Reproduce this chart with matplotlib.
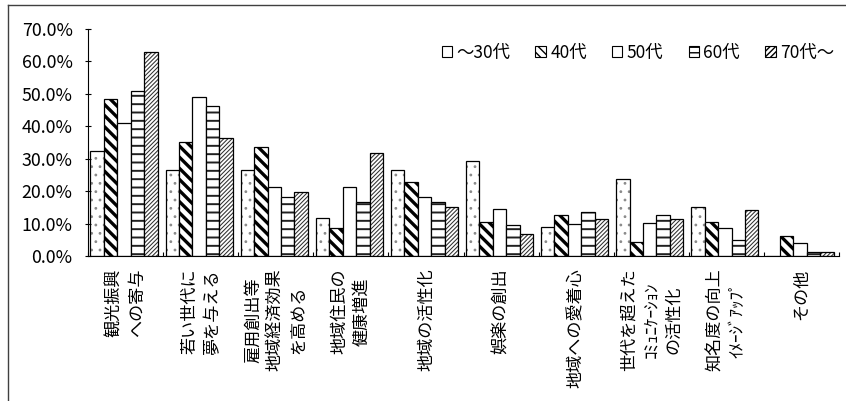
import numpy as np
import matplotlib.pyplot as plt
from matplotlib.patches import Rectangle
from matplotlib.lines import Line2D

plt.rcParams['font.family'] = ['Noto Sans CJK JP', 'DejaVu Sans']

categories = ['観光振興\nへの寄与', '若い世代に\n夢を与える', '雇用創出等\n地域経済効果\nを高める',
              '地域住民の\n健康増進', '地域の活性化', '娯楽の創出', '地域への愛着心',
              '世代を超えた\nｺﾐｭﾆｹｰｼｮﾝ\nの活性化', '知名度の向上\nｲﾒｰｼﾞｱｯﾌﾟ', 'その他']
ages = ['～30代', '40代', '50代', '60代', '70代～']

# percentages per age group
age_30 = [32.5, 26.5, 26.5, 11.8, 26.5, 29.4, 9.0, 23.7, 15.0, 0.0]
age_40 = [48.3, 35.3, 33.5, 8.5, 22.9, 10.4, 12.6, 4.4, 10.5, 6.3]
age_50 = [40.9, 49.1, 21.4, 21.4, 18.3, 14.5, 9.9, 10.1, 8.5, 3.9]
age_60 = [51.0, 46.4, 18.3, 16.5, 16.5, 9.6, 13.7, 12.7, 4.9, 1.3]
age_70 = [63.0, 36.3, 19.6, 31.7, 15.0, 6.8, 11.3, 11.3, 14.2, 1.2]
values = [age_30, age_40, age_50, age_60, age_70]

# hatch pattern / colour / line width per age group
hatches = ['..', '\\\\\\', '', '--', '////////']
hatch_colors = ['#8a8a8a', 'black', 'black', '#202020', '#303030']
hatch_widths = [0.8, 2.4, 0.8, 1.4, 0.75]
legend_hatches = ['', '\\\\\\\\', '', '---', '//////']

DPI = 100
fig = plt.figure(figsize=(846 / DPI, 401 / DPI), dpi=DPI)
ax = fig.add_axes([88 / 846, 145 / 401, 751 / 846, 227 / 401])

n = len(categories)
x = np.arange(n)
width = 0.179
offsets = (np.arange(len(ages)) - 2) * width - 0.02

for k in range(len(ages)):
    with plt.rc_context({'hatch.linewidth': hatch_widths[k]}):
        ax.bar(x + offsets[k], values[k], width, color='white',
               edgecolor=hatch_colors[k], hatch=hatches[k], linewidth=0)
    ax.bar(x + offsets[k], values[k], width, fill=False,
           edgecolor='black', linewidth=0.9)

ax.set_xlim(-0.5, n - 0.5)
ax.set_ylim(0, 70)
ax.spines['top'].set_visible(False)
ax.spines['right'].set_visible(False)
ax.spines['left'].set_linewidth(0.8)
ax.spines['bottom'].set_linewidth(0.8)

yt = np.arange(0, 71, 10)
ax.set_yticks(yt)
ax.set_yticklabels([f'{v:.1f}%' for v in yt])
ax.tick_params(axis='y', direction='inout', length=4, width=0.8, labelsize=12.8, pad=9)

ax.set_xticks(x)
ax.set_xticklabels(categories, rotation=90, fontsize=12.3, linespacing=1.3,
                   multialignment='center')
ax.tick_params(axis='x', which='major', length=0, pad=9)
ax.set_xticks(np.arange(n + 1) - 0.5, minor=True)
ax.tick_params(axis='x', which='minor', direction='in', length=3.2, width=0.8)

with plt.rc_context({'hatch.linewidth': 1.0}):
    handles = [Rectangle((0, 0), 1, 1, facecolor='white', edgecolor='black',
                         hatch=h, linewidth=0.8) for h in legend_hatches]
    fig.legend(handles, ages, loc='center right', bbox_to_anchor=(834 / 846, 1 - 53 / 401),
               ncol=5, frameon=False, fontsize=12.5, handlelength=0.6, handleheight=0.6,
               handletextpad=0.25, columnspacing=1.45, borderpad=0, borderaxespad=0)

# chart area frame (left and top edges)
fig.add_artist(Line2D([8 / 846, 8 / 846], [0, 1 - 4.5 / 401], color='#404040', linewidth=1.0))
fig.add_artist(Line2D([8 / 846, 1], [1 - 4.5 / 401, 1 - 4.5 / 401], color='#404040', linewidth=1.0))

fig.savefig('out.png', dpi=DPI)
